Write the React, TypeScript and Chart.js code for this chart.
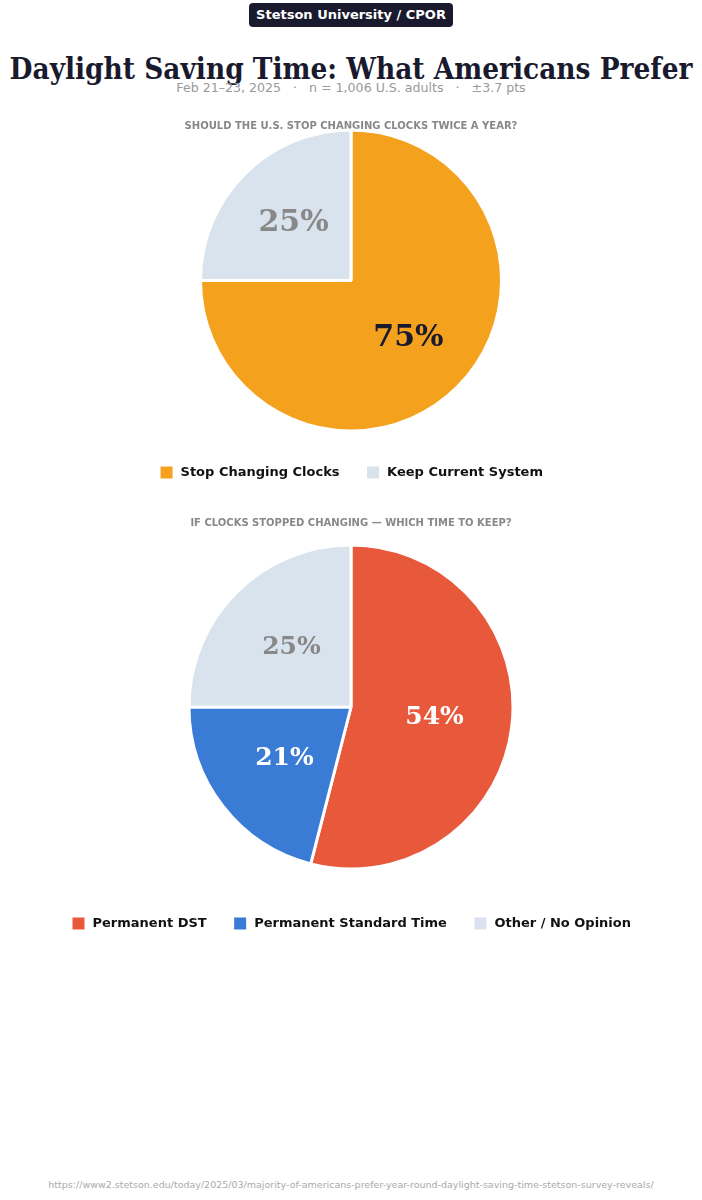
import React, { useEffect, useRef } from "react";
import { Chart, registerables } from "chart.js";

Chart.register(...registerables);

const chart1Title = "SHOULD THE U.S. STOP CHANGING CLOCKS TWICE A YEAR?";
const chart1Labels = ["Stop Changing Clocks", "Keep Current System"];
const chart1Values = [75, 25];
const chart1Colors = ["#F4A11D", "#D8E3EE"];
const chart1TextColors = ["#1a1a2e", "#888888"];

const chart2Title = "IF CLOCKS STOPPED CHANGING — WHICH TIME TO KEEP?";
const chart2Labels = ["Permanent DST", "Permanent Standard Time", "Other / No Opinion"];
const chart2Values = [54, 21, 25];
const chart2Colors = ["#E8593C", "#3A7BD5", "#D8E3EE"];
const chart2TextColors = ["#ffffff", "#ffffff", "#888888"];

const SANS = "'DejaVu Sans', sans-serif";
const SERIF = "'DejaVu Serif', serif";

const pctLabelPlugin = {
  id: "pctLabels",
  afterDatasetsDraw(chart: any, _args: any, opts: any) {
    const { ctx } = chart;
    const meta = chart.getDatasetMeta(0);
    const data = chart.data.datasets[0].data;
    ctx.save();
    meta.data.forEach((arc: any, i: number) => {
      const p = arc.getProps(["x", "y", "startAngle", "endAngle", "outerRadius"], true);
      const mid = (p.startAngle + p.endAngle) / 2;
      const r = p.outerRadius * (opts.ratio || 0.54);
      const x = p.x + Math.cos(mid) * r;
      const y = p.y + Math.sin(mid) * r;
      ctx.font = `bold ${opts.size}px ${SERIF}`;
      ctx.fillStyle = opts.colors[i];
      ctx.textAlign = "center";
      ctx.textBaseline = "middle";
      ctx.fillText(`${data[i]}%`, x, y);
    });
    ctx.restore();
  },
};

function PieChart(props: {
  title: string;
  labels: string[];
  values: number[];
  colors: string[];
  textColors: string[];
  radius: number;
  titleBottom: number;
  labelSize: number;
  labelRatio: number;
  height: number;
}) {
  const ref = useRef<HTMLCanvasElement>(null);
  useEffect(() => {
    if (!ref.current) return;
    const chart = new Chart(ref.current, {
      type: "pie",
      data: {
        labels: props.labels,
        datasets: [
          {
            data: props.values,
            backgroundColor: props.colors,
            borderColor: "#ffffff",
            borderWidth: 3,
            hoverOffset: 0,
          },
        ],
      },
      options: {
        animation: false,
        responsive: false,
        maintainAspectRatio: false,
        radius: props.radius,
        layout: { padding: 0 },
        plugins: {
          title: {
            display: true,
            text: props.title,
            color: "#888888",
            font: { family: SANS, size: 10, weight: "bold", lineHeight: 1.2 },
            padding: { top: 10, bottom: props.titleBottom },
          },
          legend: {
            display: true,
            position: "bottom",
            labels: {
              boxWidth: 15,
              boxHeight: 15,
              padding: 26,
              color: "#111111",
              font: { family: SANS, size: 13, weight: "bold" },
            },
          },
          tooltip: { enabled: false },
          pctLabels: { colors: props.textColors, size: props.labelSize, ratio: props.labelRatio },
        } as any,
      },
      plugins: [pctLabelPlugin],
    } as any);
    return () => chart.destroy();
  }, []);
  return <canvas ref={ref} width={702} height={props.height} style={{ display: "block", width: 702, height: props.height }} />;
}

export default function App() {
  useEffect(() => {
    document.body.style.margin = "0";
  }, []);
  return (
    <div style={{ position: "relative", width: 702, height: 1200, background: "#ffffff", overflow: "hidden" }}>
      <div style={{ position: "absolute", top: 3, left: 0, width: 702, textAlign: "center" }}>
        <span
          style={{
            display: "inline-block",
            background: "#1a1a2e",
            color: "#ffffff",
            fontFamily: SANS,
            fontWeight: "bold",
            fontSize: 13,
            lineHeight: "24px",
            height: 24,
            padding: "0 7px",
            borderRadius: 4,
          }}
        >
          Stetson University / CPOR
        </span>
      </div>
      <div
        style={{
          position: "absolute",
          top: 52,
          left: 0,
          width: 702,
          textAlign: "center",
          fontFamily: "'DejaVu Serif Condensed', 'DejaVu Serif', serif",
          fontStretch: "condensed",
          fontWeight: "bold",
          fontSize: 29.4,
          lineHeight: "34px",
          color: "#1a1a2e",
          whiteSpace: "nowrap",
        }}
      >
        Daylight Saving Time: What Americans Prefer
      </div>
      <div
        style={{
          position: "absolute",
          top: 80,
          left: 0,
          width: 702,
          textAlign: "center",
          fontFamily: SANS,
          fontSize: 12.6,
          lineHeight: "16px",
          color: "#999999",
          whiteSpace: "pre",
        }}
      >
        {"Feb 21–23, 2025   ·   n = 1,006 U.S. adults   ·   ±3.7 pts"}
      </div>
      <div style={{ position: "absolute", top: 110, left: 0 }}>
        <PieChart
          title={chart1Title}
          labels={chart1Labels}
          values={chart1Values}
          colors={chart1Colors}
          textColors={chart1TextColors}
          radius={150.5}
          titleBottom={-10}
          labelSize={30}
          labelRatio={0.54}
          height={380}
        />
      </div>
      <div style={{ position: "absolute", top: 507, left: 0 }}>
        <PieChart
          title={chart2Title}
          labels={chart2Labels}
          values={chart2Values}
          colors={chart2Colors}
          textColors={chart2TextColors}
          radius={162}
          titleBottom={-5}
          labelSize={25}
          labelRatio={0.52}
          height={434}
        />
      </div>
      <div
        style={{
          position: "absolute",
          top: 1179,
          left: 0,
          width: 702,
          textAlign: "center",
          fontFamily: SANS,
          fontSize: 9.5,
          lineHeight: "12px",
          color: "#aaaaaa",
          whiteSpace: "nowrap",
        }}
      >
        https://www2.stetson.edu/today/2025/03/majority-of-americans-prefer-year-round-daylight-saving-time-stetson-survey-reveals/
      </div>
    </div>
  );
}
